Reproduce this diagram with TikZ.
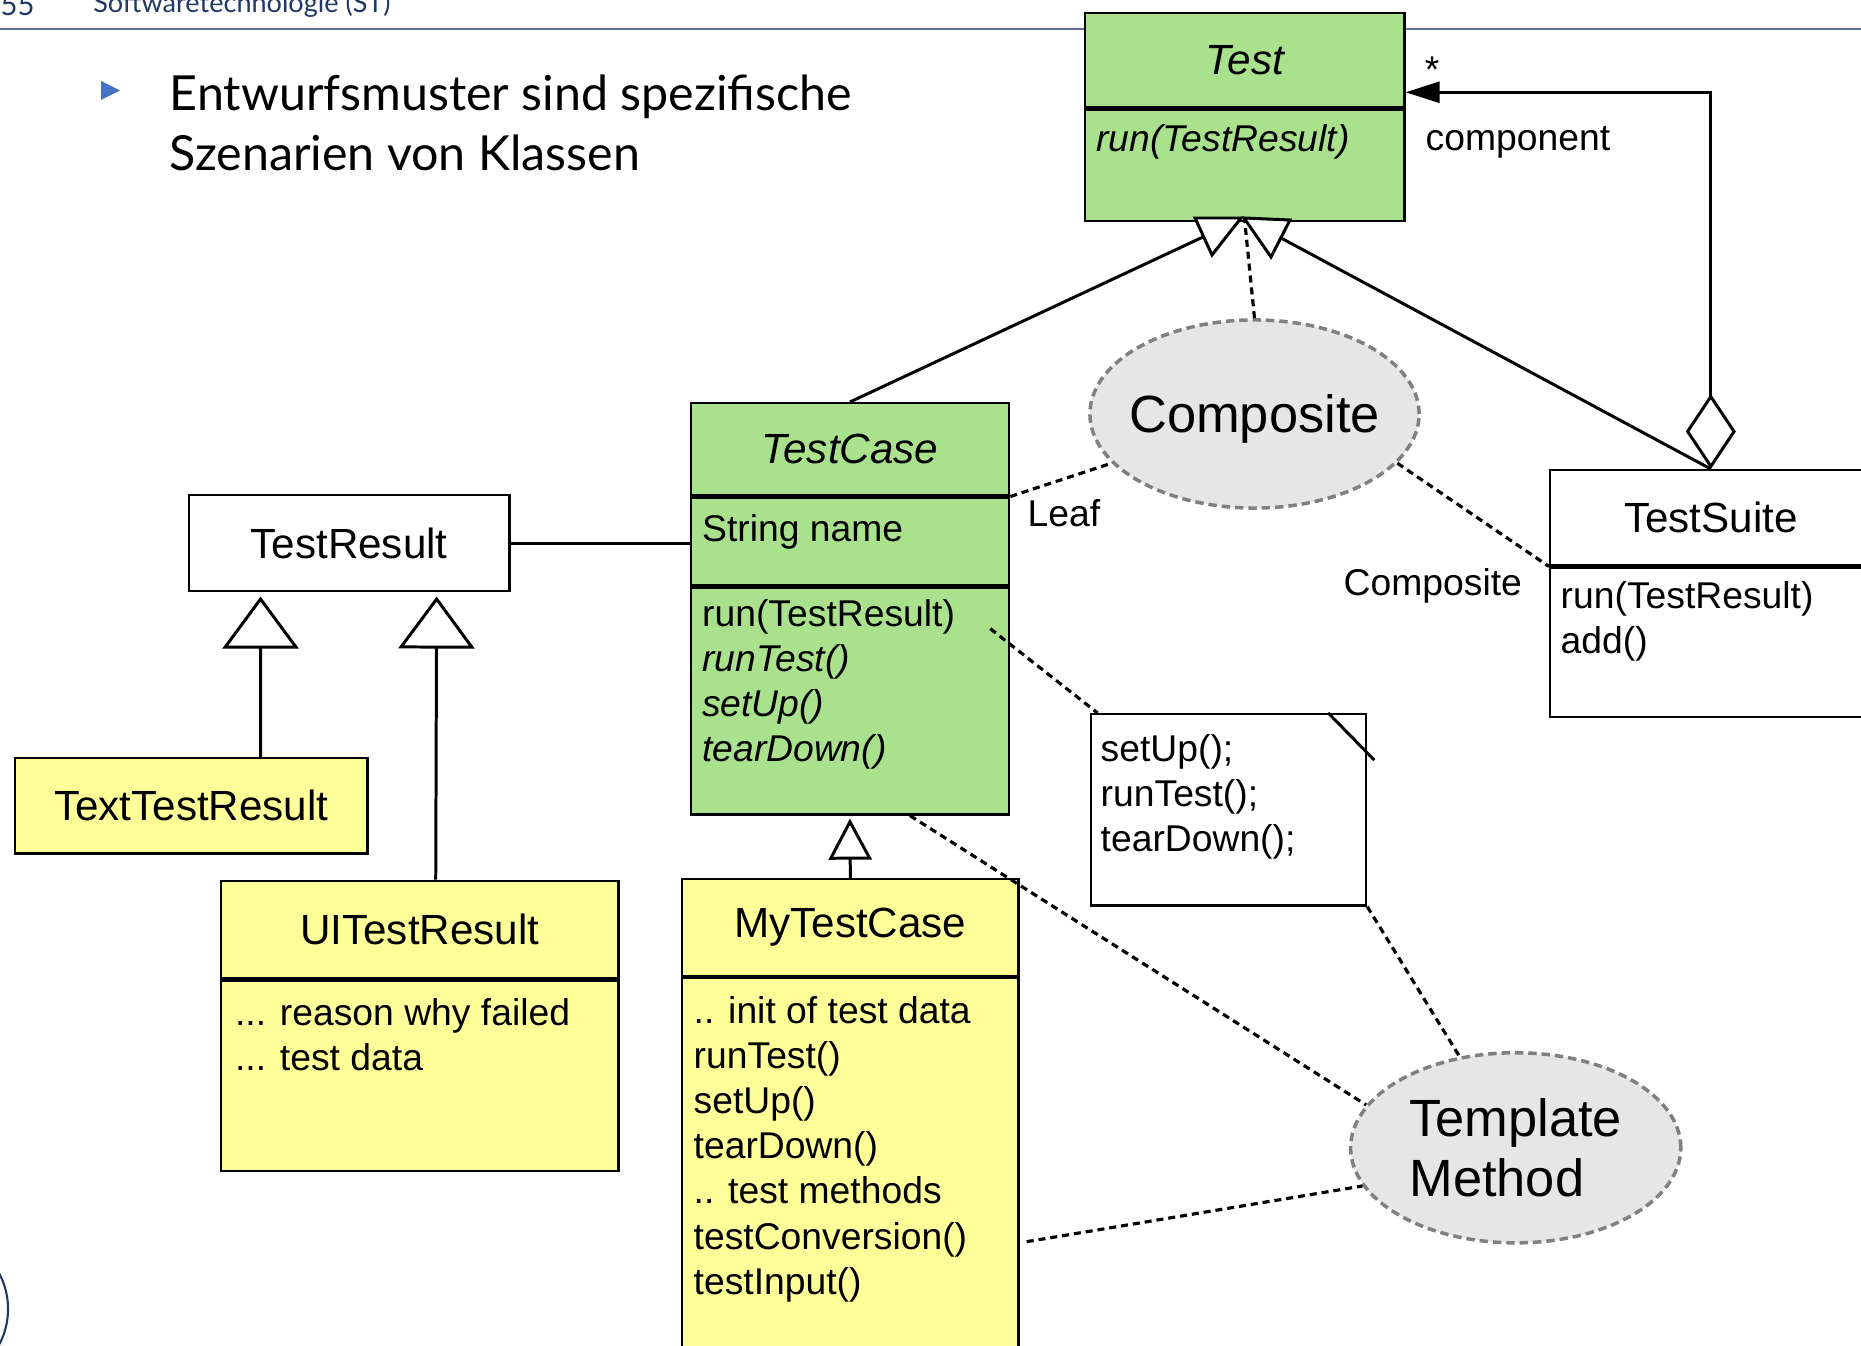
\documentclass[tikz,border=0pt]{standalone}
\usepackage{fontspec}
\setmainfont{Liberation Sans}
\newfontfamily\slidefont{Lato}
\usepackage{tikz}
\usetikzlibrary{positioning,arrows.meta,shapes.geometric}
\definecolor{umlgreen}{RGB}{169,225,141}
\definecolor{umlyellow}{RGB}{255,255,153}
\definecolor{pattfill}{RGB}{230,230,230}
\definecolor{pattline}{RGB}{128,128,128}
\definecolor{headline}{RGB}{98,112,152}
\definecolor{headtext}{RGB}{31,56,100}
\definecolor{bulletblue}{RGB}{68,114,196}

\begin{document}
\begin{tikzpicture}[x=0.01cm,y=-0.01cm,
  cls/.style={draw,line width=0.7pt,inner sep=0pt,anchor=north west,font=\fontsize{12}{14}\selectfont},
  mem/.style={inner sep=0pt,anchor=base west,align=left,font=\fontsize{10.6}{12.8}\selectfont},
  patt/.style={ellipse,draw=pattline,fill=pattfill,line width=1pt,dash pattern=on 2.4pt off 1.4pt,inner sep=0pt,font=\fontsize{14.9}{16.9}\selectfont},
  dep/.style={line width=0.9pt,dash pattern=on 2pt off 1.4pt},
  assoc/.style={line width=0.85pt},
  gen/.style={line width=0.85pt,-{Triangle[open,length=5.2mm,width=7.6mm]}}]
  \useasboundingbox (0,0) rectangle (1861,1346);
  % slide frame
  \draw[headline,line width=0.8pt] (0,29) -- (1861,29);
  \node[inner sep=0pt,anchor=base west,text=headtext,font=\slidefont\fontsize{8.3}{10}\selectfont] (pagenr) at (0,16) {55};
  \node[inner sep=0pt,anchor=base west,text=headtext,font=\slidefont\fontsize{7.7}{10}\selectfont] (course) at (92.6,12.7) {Softwaretechnologie (ST)};
  \fill[bulletblue] (101,81) -- (120,90.5) -- (101,100) -- cycle;
  % base of a multi-line node = baseline of its last line
  \node[inner sep=0pt,anchor=base west,align=left,font=\slidefont\fontsize{13.75}{17}\selectfont] (intro) at (169,170.5) {Entwurfsmuster sind spezifische\\Szenarien von Klassen};
  \draw[headtext,line width=0.6pt] (-68,1309) circle[radius=7.6mm];

  % classes
  \node[cls,fill=umlgreen,minimum width=31.9mm,minimum height=9.4mm,font=\fontsize{12}{14}\selectfont\itshape] (testname) at (1084,12) {Test};
  \node[cls,fill=umlgreen,minimum width=31.9mm,minimum height=11.1mm,below=0pt of testname] (testops) {};
  \node[mem,font=\fontsize{10.6}{12.8}\selectfont\itshape] (testrun) at (1095.5,151.7) {run(TestResult)};

  \node[cls,fill=umlgreen,minimum width=31.8mm,minimum height=9.2mm,font=\fontsize{12}{14}\selectfont\itshape] (tcname) at (689.6,402) {TestCase};
  \node[cls,fill=umlgreen,minimum width=31.8mm,minimum height=8.76mm,below=0pt of tcname] (tcattr) {};
  \node[cls,fill=umlgreen,minimum width=31.8mm,minimum height=22.64mm,below=0pt of tcattr] (tcops) {};
  \node[mem] (tcfield) at (701.5,541.4) {String name};
  \node[mem] (tcmeth) at (701.5,761.1) {run(TestResult)\\\textit{runTest()}\\\textit{setUp()}\\\textit{tearDown()}};

  \node[cls,fill=white,minimum width=32.05mm,minimum height=9.55mm] (tr) at (187.5,494) {TestResult};
  \node[cls,fill=umlyellow,minimum width=35.2mm,minimum height=9.5mm] (ttr) at (14,757) {TextTestResult};
  \node[cls,fill=umlyellow,minimum width=39.75mm,minimum height=9.75mm] (uitrname) at (219.6,879.5) {UITestResult};
  \node[cls,fill=umlyellow,minimum width=39.75mm,minimum height=19mm,below=0pt of uitrname] (uitrops) {};
  \node[mem] (uitrfield) at (234.4,1070.7) {... reason why failed\\... test data};

  \node[cls,fill=umlyellow,minimum width=33.6mm,minimum height=9.65mm] (mtcname) at (681,878) {MyTestCase};
  \node[cls,fill=umlyellow,minimum width=33.6mm,minimum height=48mm,below=0pt of mtcname] (mtcops) {};
  \node[mem] (mtcmeth) at (693,1294) {.. init of test data\\runTest()\\setUp()\\tearDown()\\.. test methods\\testConversion()\\testInput()};

  \node[cls,fill=white,minimum width=32.1mm,minimum height=9.5mm] (tsname) at (1549,469) {TestSuite};
  \node[cls,fill=white,minimum width=32.1mm,minimum height=14.9mm,below=0pt of tsname] (tsops) {};
  \node[mem] (tsmeth) at (1560,653.2) {run(TestResult)\\add()};

  \node[cls,fill=white,minimum width=27.5mm,minimum height=19.1mm] (note) at (1089.6,713) {};
  \draw[assoc] ([xshift=-3.9mm]note.north east) -- ++(4.6mm,-4.7mm);
  \node[mem] (notetext) at (1100,851.3) {setUp();\\runTest();\\tearDown();};

  % patterns
  \node[patt,minimum width=32.9mm,minimum height=18.8mm] (comp) at (1254.5,414) {};
  \node[inner sep=0pt,text depth=0pt,font=\fontsize{14.9}{16.9}\selectfont] (comptext) at (comp.center) {Composite};
  \node[patt,minimum width=33mm,minimum height=19mm,align=left] (tm) at (1515.7,1147.8) {Template\\Method};

  % labels
  \node[mem] (leaf) at (1027,526) {Leaf};
  \node[mem] (complabel) at (1343,595.5) {Composite};
  \node[mem] (role) at (1425,150.5) {component};
  \node[mem,anchor=base] (mult) at (1432,83) {*};

  % connectors
  \draw[assoc] (tr.east) -- (tr.east -| tcattr.west);
  \draw[gen] ([xshift=24.65mm]ttr.north west) -- ([xshift=7.3mm,yshift=-0.45mm]tr.south west);
  \draw[gen] ([xshift=21.6mm]uitrname.north west) -- ([xshift=24.9mm,yshift=-0.45mm]tr.south west);
  \draw[gen,-{Triangle[open,length=4.1mm,width=4.3mm]}] (mtcname.north) -- ([yshift=-0.3mm]tcops.south);
  \coordinate (genL) at (1203,237);
  \coordinate (genR) at (1281,238);
  \draw[assoc] (tcname.north) -- (genL);
  \draw[assoc] (tsname.north) -- (genR);
  \draw[assoc,fill=white] (1195,218) -- (1241,218) -- (1212,255) -- cycle;
  \draw[assoc,fill=white] (1244,218) -- (1290,220) -- (1271,257) -- cycle;
  \draw[assoc,{Diamond[open,length=7.5mm,width=5mm]}-{Triangle[length=3.4mm,width=2.1mm]}] (tsname.north) |- ([yshift=-3.2mm]testname.east);

  \draw[dep] (comp.north) -- (testops.south);
  \draw[dep] (tcname.south east) -- (comp.199);
  \draw[dep] (comp.341) -- (tsops.north west);
  \draw[dep] ([xshift=-2mm,yshift=-4.2mm]tcops.north east) -- ([xshift=0.8mm]note.north west);
  \draw[dep] (note.south east) -- (tm);
  \draw[dep] ([xshift=6mm]tcops.south) -- (tm.164);
  \draw[dep] ([xshift=0.7mm,yshift=-26.45mm]mtcops.north east) -- (tm.194);
\end{tikzpicture}
\end{document}
